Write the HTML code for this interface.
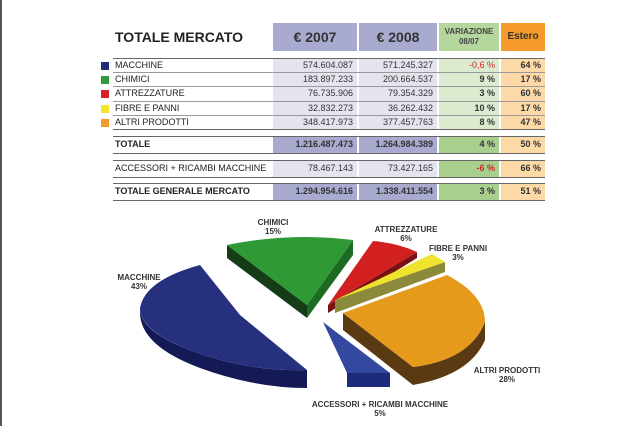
<!DOCTYPE html>
<html><head><meta charset="utf-8"><style>
body{margin:0;width:640px;height:426px;background:#fff;position:relative;overflow:hidden;font-family:"Liberation Sans",sans-serif;}
.a{position:absolute;}
.c{position:absolute;box-sizing:border-box;font-size:9px;color:#333;text-align:right;padding-right:4px;line-height:13px;}
.l{position:absolute;left:115px;font-size:9px;color:#222;line-height:13px;}
.hr{position:absolute;left:113px;width:432px;height:1px;background:#666;}
.sq{position:absolute;left:101px;width:8px;height:8px;}
.pl{position:absolute;font-size:8px;font-weight:bold;color:#333;text-align:center;line-height:9px;transform:translateX(-50%);white-space:nowrap;}
</style></head><body>
<div class="a" style="left:0;top:0;width:2px;height:426px;background:#555"></div>
<div class="a" style="left:115px;top:29px;font-size:14px;font-weight:bold;color:#222">TOTALE MERCATO</div>
<div class="a" style="left:273px;top:23px;width:84px;height:28px;background:#a8abcf;font-size:14px;font-weight:bold;color:#333;text-align:center;line-height:28px">€ 2007</div>
<div class="a" style="left:359px;top:23px;width:78px;height:28px;background:#a8abcf;font-size:14px;font-weight:bold;color:#333;text-align:center;line-height:28px">€ 2008</div>
<div class="a" style="left:439px;top:23px;width:60px;height:28px;background:#b5d69c;font-size:8px;font-weight:bold;color:#444;text-align:center;line-height:10px;padding-top:4px;box-sizing:border-box">VARIAZIONE<br>08/07</div>
<div class="a" style="left:501px;top:23px;width:44px;height:28px;background:#f39a2b;font-size:10px;font-weight:bold;color:#333;text-align:center;line-height:28px">Estero</div>

<!-- backgrounds -->
<div class="a" style="left:273px;top:58px;width:164px;height:71px;background:#e3e4ee"></div>
<div class="a" style="left:439px;top:58px;width:60px;height:71px;background:#dcebd0"></div>
<div class="a" style="left:501px;top:58px;width:44px;height:71px;background:#fdd9a8"></div>
<div class="a" style="left:273px;top:136px;width:164px;height:17px;background:#a8abcf"></div>
<div class="a" style="left:439px;top:136px;width:60px;height:17px;background:#a9cf8e"></div>
<div class="a" style="left:501px;top:136px;width:44px;height:17px;background:#fdd9a8"></div>
<div class="a" style="left:273px;top:160px;width:164px;height:17px;background:#e3e4ee"></div>
<div class="a" style="left:439px;top:160px;width:60px;height:17px;background:#a9cf8e"></div>
<div class="a" style="left:501px;top:160px;width:44px;height:17px;background:#fdd9a8"></div>
<div class="a" style="left:273px;top:183px;width:164px;height:17px;background:#a8abcf"></div>
<div class="a" style="left:439px;top:183px;width:60px;height:17px;background:#a9cf8e"></div>
<div class="a" style="left:501px;top:183px;width:44px;height:17px;background:#fdd9a8"></div>
<div class="a" style="left:357px;top:58px;width:2px;height:142px;background:#fff"></div>

<div class="hr" style="top:58px"></div>
<div class="hr" style="top:72px;background:#999"></div>
<div class="hr" style="top:86px;background:#999"></div>
<div class="hr" style="top:101px;background:#999"></div>
<div class="hr" style="top:115px;background:#999"></div>
<div class="hr" style="top:129px"></div>
<div class="hr" style="top:136px"></div>
<div class="hr" style="top:153px"></div>
<div class="hr" style="top:160px"></div>
<div class="hr" style="top:177px"></div>
<div class="hr" style="top:183px"></div>
<div class="hr" style="top:200px"></div>

<div class="sq" style="top:62px;background:#1f2a78"></div>
<div class="sq" style="top:76px;background:#2f9a3a"></div>
<div class="sq" style="top:90px;background:#d8202a"></div>
<div class="sq" style="top:105px;background:#f2e82a"></div>
<div class="sq" style="top:119px;background:#f29a2a"></div>

<div class="l" style="top:59px">MACCHINE</div>
<div class="l" style="top:73px">CHIMICI</div>
<div class="l" style="top:87px">ATTREZZATURE</div>
<div class="l" style="top:102px">FIBRE E PANNI</div>
<div class="l" style="top:116px">ALTRI PRODOTTI</div>
<div class="l" style="top:138px;font-weight:bold">TOTALE</div>
<div class="l" style="top:162px">ACCESSORI + RICAMBI MACCHINE</div>
<div class="l" style="top:185px;font-weight:bold">TOTALE GENERALE MERCATO</div>

<div class="c" style="left:273px;width:84px;top:59px">574.604.087</div>
<div class="c" style="left:359px;width:78px;top:59px">571.245.327</div>
<div class="c" style="left:439px;width:60px;top:59px;color:#d02828">-0,6 %</div>
<div class="c" style="left:501px;width:44px;top:59px;font-weight:bold">64 %</div>
<div class="c" style="left:273px;width:84px;top:73px">183.897.233</div>
<div class="c" style="left:359px;width:78px;top:73px">200.664.537</div>
<div class="c" style="left:439px;width:60px;top:73px;font-weight:bold">9 %</div>
<div class="c" style="left:501px;width:44px;top:73px;font-weight:bold">17 %</div>
<div class="c" style="left:273px;width:84px;top:87px">76.735.906</div>
<div class="c" style="left:359px;width:78px;top:87px">79.354.329</div>
<div class="c" style="left:439px;width:60px;top:87px;font-weight:bold">3 %</div>
<div class="c" style="left:501px;width:44px;top:87px;font-weight:bold">60 %</div>
<div class="c" style="left:273px;width:84px;top:102px">32.832.273</div>
<div class="c" style="left:359px;width:78px;top:102px">36.262.432</div>
<div class="c" style="left:439px;width:60px;top:102px;font-weight:bold">10 %</div>
<div class="c" style="left:501px;width:44px;top:102px;font-weight:bold">17 %</div>
<div class="c" style="left:273px;width:84px;top:116px">348.417.973</div>
<div class="c" style="left:359px;width:78px;top:116px">377.457.763</div>
<div class="c" style="left:439px;width:60px;top:116px;font-weight:bold">8 %</div>
<div class="c" style="left:501px;width:44px;top:116px;font-weight:bold">47 %</div>
<div class="c" style="left:273px;width:84px;top:138px;font-weight:bold">1.216.487.473</div>
<div class="c" style="left:359px;width:78px;top:138px;font-weight:bold">1.264.984.389</div>
<div class="c" style="left:439px;width:60px;top:138px;font-weight:bold">4 %</div>
<div class="c" style="left:501px;width:44px;top:138px;font-weight:bold">50 %</div>
<div class="c" style="left:273px;width:84px;top:162px">78.467.143</div>
<div class="c" style="left:359px;width:78px;top:162px">73.427.165</div>
<div class="c" style="left:439px;width:60px;top:162px;color:#d02828;font-weight:bold">-6 %</div>
<div class="c" style="left:501px;width:44px;top:162px;font-weight:bold">66 %</div>
<div class="c" style="left:273px;width:84px;top:185px;font-weight:bold">1.294.954.616</div>
<div class="c" style="left:359px;width:78px;top:185px;font-weight:bold">1.338.411.554</div>
<div class="c" style="left:439px;width:60px;top:185px;font-weight:bold">3 %</div>
<div class="c" style="left:501px;width:44px;top:185px;font-weight:bold">51 %</div>

<svg class="a" style="left:0;top:0" width="640" height="426">
<!-- Macchine -->
<path d="M140,310 Q138,345 200,368 Q255,388 307,388 L307,370 Q250,372 195,352 Q142,333 140,310 Z" fill="#141a55"/>
<path d="M200,265 L240,315 L307,370 Q250,372 195,352 Q140,332 140,308 Q145,280 200,265 Z" fill="#26307f"/>
<!-- Chimici -->
<path d="M227,245 L227,258 L307,318 L307,305 Z" fill="#143d17"/>
<path d="M353,240 L353,255 L307,318 L307,305 Z" fill="#1d6a22"/>
<path d="M227,245 Q290,232 353,240 L307,305 Z" fill="#2f9a35"/>
<!-- Attrezzature -->
<path d="M328,305 L328,313 L417,258 L417,252 Z" fill="#7a1010"/>
<path d="M328,305 L373,241 Q398,243 417,252 Z" fill="#d22020"/>
<!-- Fibre -->
<path d="M335,300 L335,313 L445,272 L445,262 Z" fill="#8a8a3a"/>
<path d="M335,300 L432,254 L445,262 Z" fill="#efe42c"/>
<!-- Altri -->
<path d="M343,313 L343,330 L413,385 Q470,375 485,340 L485,322 Q470,360 413,367 Z" fill="#5a3a12"/>
<path d="M343,313 L447,275 Q485,295 485,322 Q470,360 413,367 Z" fill="#e59a1c"/>
<!-- Accessori -->
<path d="M347,373 L347,387 L390,387 L390,373 Z" fill="#1c2a7a"/>
<path d="M323,322 L347,373 L390,373 Z" fill="#3448a0"/>
</svg>
<div class="pl" style="left:273px;top:218px">CHIMICI<br>15%</div>
<div class="pl" style="left:406px;top:225px">ATTREZZATURE<br>6%</div>
<div class="pl" style="left:458px;top:244px">FIBRE E PANNI<br>3%</div>
<div class="pl" style="left:139px;top:273px">MACCHINE<br>43%</div>
<div class="pl" style="left:507px;top:366px">ALTRI PRODOTTI<br>28%</div>
<div class="pl" style="left:380px;top:400px">ACCESSORI + RICAMBI MACCHINE<br>5%</div>
</body></html>
